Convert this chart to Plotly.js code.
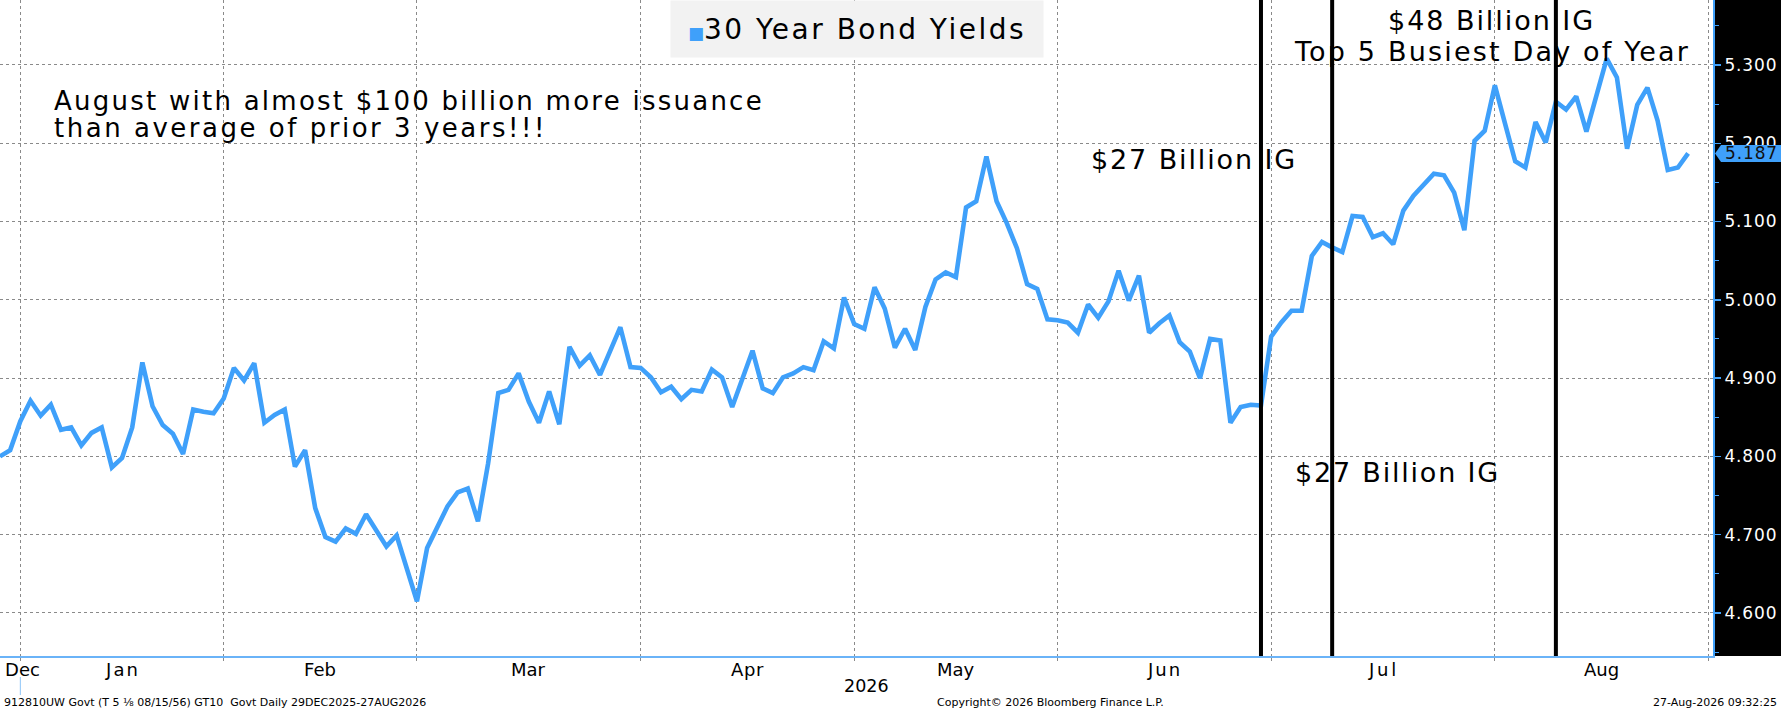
<!DOCTYPE html>
<html>
<head>
<meta charset="utf-8">
<script src="https://cdn.plot.ly/plotly-3.0.1.min.js"></script>
<style>
  html, body { margin: 0; padding: 0; background: #ffffff; }
  #chart { width: 1781px; height: 710px; }
</style>
</head>
<body>
<div id="chart"></div>
<script>
// ---------------- DATA ----------------
// 30 Year Bond yields, one value per trading day, 29-Dec-2025 .. 27-Aug-2026
const yieldsDec = [4.800, 4.808, 4.845];
const yieldsJan = [4.871, 4.852, 4.866, 4.834, 4.837, 4.814, 4.830, 4.837, 4.786, 4.798,
                   4.837, 4.920, 4.864, 4.840, 4.829, 4.803, 4.860, 4.857, 4.855, 4.874];
const yieldsFeb = [4.913, 4.897, 4.919, 4.843, 4.853, 4.860, 4.787, 4.808, 4.734, 4.697,
                   4.691, 4.708, 4.701, 4.726, 4.706, 4.685, 4.699, 4.657, 4.615];
const yieldsMar = [4.683, 4.710, 4.736, 4.754, 4.759, 4.717, 4.791, 4.881, 4.885, 4.906, 4.870,
                   4.843, 4.883, 4.841, 4.940, 4.916, 4.929, 4.904, 4.935, 4.965, 4.914, 4.913];
const yieldsApr = [4.901, 4.882, 4.889, 4.873, 4.885, 4.883, 4.911, 4.901, 4.863, 4.899, 4.935,
                   4.887, 4.881, 4.901, 4.906, 4.914, 4.910, 4.947, 4.938, 5.003, 4.969];
const yieldsMay = [4.963, 5.016, 4.989, 4.939, 4.963, 4.936, 4.991, 5.026, 5.035, 5.029,
                   5.118, 5.126, 5.183, 5.126, 5.098, 5.066, 5.020, 5.014, 4.975, 4.974];
const yieldsJun = [4.971, 4.958, 4.994, 4.977, 4.998, 5.037, 4.999, 5.031, 4.958, 4.970, 4.980,
                   4.946, 4.934, 4.900, 4.950, 4.948, 4.843, 4.863, 4.866, 4.865, 4.953];
const yieldsJul = [4.971, 4.986, 4.986, 5.056, 5.074, 5.067, 5.061, 5.107, 5.106, 5.080, 5.085,
                   5.071, 5.114, 5.133, 5.146, 5.161, 5.159, 5.137, 5.089, 5.203, 5.216, 5.274];
const yieldsAug = [5.225, 5.177, 5.169, 5.227, 5.201, 5.253, 5.243, 5.260, 5.215, 5.261,
                   5.308, 5.284, 5.193, 5.249, 5.271, 5.229, 5.166, 5.169, 5.187];

// month boundaries (trading-day index of the last day of each month) and labels
const monthEndIdx   = [2, 22, 41, 63, 84, 104, 125, 147, 168];
const monthLabels   = ['Dec', 'Jan', 'Feb', 'Mar', 'Apr', 'May', 'Jun', 'Jul', 'Aug'];
const monthLabelPos = [2.2, 12, 31.5, 52, 73.5, 94, 114.5, 136, 157.5];
const yearLabel = '2026';

// y axis ticks
const yTickVals = [4.6, 4.7, 4.8, 4.9, 5.0, 5.1, 5.2, 5.3];

// event markers (trading-day index) and their notes
const eventIdx = [124, 131, 153];
const seriesName = '30 Year Bond Yields';
const noteTop = ['August with almost $100 billion more issuance', 'than average of prior 3 years!!!'];
const noteEvent1 = '$27 Billion IG';
const noteEvent2 = '$27 Billion IG';
const noteEvent3 = ['$48 Billion IG', 'Top 5 Busiest Day of Year'];
const footerLeft = '912810UW Govt (T 5 \u215B 08/15/56) GT10  Govt Daily 29DEC2025-27AUG2026';
const footerMid = 'Copyright\u00A9 2026 Bloomberg Finance L.P.';
const footerRight = '27-Aug-2026 09:32:25';

// ---------------- STYLE ----------------
const W = 1781, H = 710;
const M = { l: 0, r: 68, t: 0, b: 54 };
const PW = W - M.l - M.r;   // 1713
const PH = H - M.t - M.b;   // 656
const px = x => x / PW;               // pixel x -> paper
const py = y => (PH - y) / PH;        // pixel y -> paper
const yRange = [4.545, 5.383];
const xRange = [0, 168.45];
const valToPaper = v => (v - yRange[0]) / (yRange[1] - yRange[0]);

const BLUE = '#3fa0fa';
const FONT = 'DejaVu Sans, Verdana, sans-serif';
// the reference's lettering is wide: widen text to the widths seen in the picture
const monthLabelWidths = [35, 34, 32, 33, 33, 36, 34, 30, 35];

const cnv = document.createElement('canvas').getContext('2d');
function wide(text, size, target) {
  cnv.font = size + 'px "DejaVu Sans"';
  const w = cnv.measureText(text).width;
  const n = Array.from(text).length;
  const ls = Math.max(0, (target - w) / n);
  return '<span style="letter-spacing:' + ls.toFixed(2) + 'px">' + text + '</span>';
}

// ---------------- BUILD ----------------
const yields = [].concat(yieldsDec, yieldsJan, yieldsFeb, yieldsMar, yieldsApr,
                         yieldsMay, yieldsJun, yieldsJul, yieldsAug);
const xIdx = yields.map((_, i) => i);
const lastVal = yields[yields.length - 1];

const trace = {
  x: xIdx, y: yields, type: 'scatter', mode: 'lines',
  name: seriesName,
  line: { color: BLUE, width: 4.6, shape: 'linear' },
  hoverinfo: 'skip', showlegend: false
};

const shapes = [];
// black right-axis panel
shapes.push({ type: 'rect', xref: 'paper', yref: 'paper', x0: 1, x1: W / PW, y0: 0, y1: 1,
              fillcolor: '#000000', line: { width: 0 }, layer: 'below' });
// event lines
eventIdx.forEach(ix => shapes.push({
  type: 'line', xref: 'x', yref: 'paper', x0: ix, x1: ix, y0: 0, y1: 1,
  line: { color: '#000000', width: 4 }, layer: 'above'
}));
// last value flag
const fy = valToPaper(lastVal);
const hh = 8.5 / PH;
const fx0 = px(1715), fx1 = px(1721), fx2 = W / PW;
shapes.push({ type: 'path', xref: 'paper', yref: 'paper',
  path: `M ${fx0},${fy} L ${fx1},${fy + hh} L ${fx2},${fy + hh} L ${fx2},${fy - hh} L ${fx1},${fy - hh} Z`,
  fillcolor: BLUE, line: { width: 0 }, layer: 'above' });
// small marker line below the first month tick
shapes.push({ type: 'line', xref: 'x', yref: 'paper', x0: monthEndIdx[0], x1: monthEndIdx[0],
  y0: py(677), y1: py(695), line: { color: '#8cc4f8', width: 1 } });

const annotations = [];
// month labels
monthLabels.forEach((m, i) => annotations.push({
  xref: 'x', yref: 'paper', x: monthLabelPos[i], y: py(669), text: wide(m, 18, monthLabelWidths[i]),
  showarrow: false, xanchor: 'center', yanchor: 'middle', font: { family: FONT, size: 18, color: '#000' }
}));
annotations.push({ xref: 'paper', yref: 'paper', x: px(866), y: py(686), text: yearLabel,
  showarrow: false, xanchor: 'center', yanchor: 'middle',
  font: { family: FONT, size: 17.5, color: '#000' } });
// footer
annotations.push({ xref: 'paper', yref: 'paper', x: px(2), y: py(703), text: footerLeft,
  showarrow: false, xanchor: 'left', yanchor: 'middle', font: { family: FONT, size: 11, color: '#000' } });
annotations.push({ xref: 'paper', yref: 'paper', x: px(1050), y: py(703), text: footerMid,
  showarrow: false, xanchor: 'center', yanchor: 'middle', font: { family: FONT, size: 11, color: '#000' } });
annotations.push({ xref: 'paper', yref: 'paper', x: px(1779), y: py(703), text: footerRight,
  showarrow: false, xanchor: 'right', yanchor: 'middle', font: { family: FONT, size: 11, color: '#000' } });
// legend box
annotations.push({ xref: 'paper', yref: 'paper', x: px(857), y: py(29), showarrow: false,
  text: '<span style="color:' + BLUE + ';font-size:17px">\u25A0</span>' + wide(seriesName, 28, 322),
  xanchor: 'center', yanchor: 'middle', bgcolor: '#f2f2f2', width: 368, height: 52, borderpad: 2,
  font: { family: FONT, size: 28, color: '#000' } });
// notes
annotations.push({ xref: 'paper', yref: 'paper', x: px(52), y: py(101), text: wide(noteTop[0], 26, 710),
  showarrow: false, xanchor: 'left', yanchor: 'middle', font: { family: FONT, size: 26, color: '#000' } });
annotations.push({ xref: 'paper', yref: 'paper', x: px(52), y: py(128), text: wide(noteTop[1], 26, 493),
  showarrow: false, xanchor: 'left', yanchor: 'middle', font: { family: FONT, size: 26, color: '#000' } });
annotations.push({ xref: 'paper', yref: 'paper', x: px(1089), y: py(159), text: wide(noteEvent1, 27, 206),
  showarrow: false, xanchor: 'left', yanchor: 'middle', font: { family: FONT, size: 27, color: '#000' } });
annotations.push({ xref: 'paper', yref: 'paper', x: px(1293), y: py(472), text: wide(noteEvent2, 27, 205),
  showarrow: false, xanchor: 'left', yanchor: 'middle', font: { family: FONT, size: 27, color: '#000' } });
annotations.push({ xref: 'paper', yref: 'paper', x: px(1386), y: py(20), text: wide(noteEvent3[0], 27, 207),
  showarrow: false, xanchor: 'left', yanchor: 'middle', font: { family: FONT, size: 27, color: '#000' } });
annotations.push({ xref: 'paper', yref: 'paper', x: px(1292), y: py(52), text: wide(noteEvent3[1], 27, 395),
  showarrow: false, xanchor: 'left', yanchor: 'middle', font: { family: FONT, size: 27, color: '#000' } });
// last value label
annotations.push({ xref: 'paper', yref: 'paper', x: px(1723), y: fy, text: wide(lastVal.toFixed(3), 17, 53),
  showarrow: false, xanchor: 'left', yanchor: 'middle', font: { family: FONT, size: 17, color: '#111' } });

const layout = {
  width: W, height: H,
  margin: M,
  paper_bgcolor: '#ffffff', plot_bgcolor: '#ffffff',
  font: { family: FONT, color: '#000' },
  showlegend: false,
  xaxis: {
    range: xRange, tickmode: 'array', tickvals: monthEndIdx, ticktext: monthEndIdx.map(() => ''),
    showticklabels: false, showgrid: true, gridcolor: '#8a8a8a', griddash: 'dot', gridwidth: 1,
    ticks: 'outside', ticklen: 3, tickcolor: '#8a8a8a',
    showline: true, linecolor: '#6ab3f8', linewidth: 1.5, zeroline: false, fixedrange: true
  },
  yaxis: {
    side: 'right', range: yRange, tickmode: 'array', tickvals: yTickVals,
    ticktext: yTickVals.map(v => wide(v.toFixed(3), 17, 53)),
    showgrid: true, gridcolor: '#8a8a8a', griddash: 'dot', gridwidth: 1,
    ticks: 'outside', ticklen: 6, tickwidth: 1.5, tickcolor: BLUE,
    minor: { dtick: 0.05, tick0: 4.55, ticks: 'outside', ticklen: 4, tickwidth: 1, tickcolor: BLUE, showgrid: false },
    showline: true, linecolor: BLUE, linewidth: 2, zeroline: false,
    tickfont: { family: FONT, size: 17, color: '#ffffff' }, fixedrange: true
  },
  shapes: shapes,
  annotations: annotations
};

Plotly.newPlot('chart', [trace], layout, { displayModeBar: false, staticPlot: true });
</script>
</body>
</html>
